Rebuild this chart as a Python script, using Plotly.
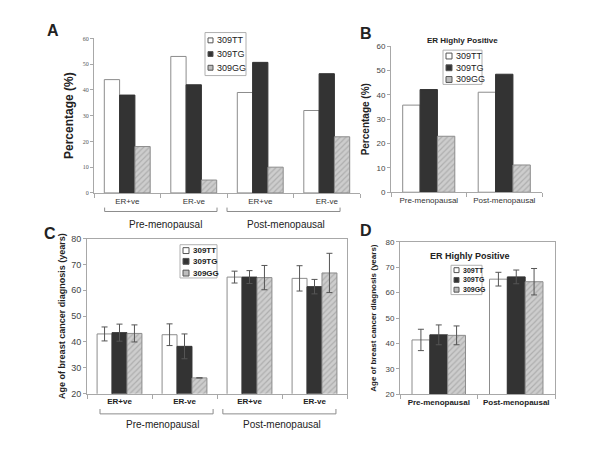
import plotly.graph_objects as go

# --- données ---
genotypes = ["309TT", "309TG", "309GG"]
er_labels = ["ER+ve", "ER-ve", "ER+ve", "ER-ve"]
meno_labels = ["Pre-menopausal", "Post-menopausal"]

# Panel A : pourcentage par statut ER
pct_a_tt = [44, 53, 39, 32]
pct_a_tg = [38, 42, 50.7, 46.3]
pct_a_gg = [18, 5, 10, 21.8]

# Panel B : ER fortement positif
pct_b_tt = [35.8, 41.1]
pct_b_tg = [42.2, 48.5]
pct_b_gg = [23.0, 11.2]

# Panel C : âge au diagnostic (moyenne, écart)
age_c_tt = [43.1, 42.8, 65.1, 64.6]
err_c_tt = [2.7, 4.2, 2.3, 4.9]
age_c_tg = [43.6, 38.3, 65.1, 61.4]
err_c_tg = [3.3, 4.8, 2.5, 2.8]
age_c_gg = [43.3, 26.1, 64.9, 66.7]
err_c_gg = [3.3, 0, 4.7, 7.6]

# Panel D : âge, ER fortement positif
age_d_tt = [41.4, 65.3]
err_d_tt = [4.2, 2.7]
age_d_tg = [43.4, 66.2]
err_d_tg = [3.9, 2.7]
age_d_gg = [43.2, 64.3]
err_d_gg = [3.7, 5.2]

FONT = "Liberation Sans, Arial, sans-serif"
W, H = 600, 450

STYLES = {
    "309TT": dict(color="white", line=dict(color="#8c8c8c", width=1)),
    "309TG": dict(color="#333333", line=dict(color="#333333", width=1)),
    "309GG": dict(color="#c4c4c4", line=dict(color="#8c8c8c", width=1),
                  pattern=dict(shape="/", fgcolor="#8f8f8f", bgcolor="#cdcdcd",
                               size=4, solidity=0.3)),
}
SWATCH = {"309TT": "white", "309TG": "#333333", "309GG": "#bdbdbd"}


def px_x(p):
    return p / W


def px_y(p):
    return 1 - p / H


def ajouter_panel(fig, xa, ya, series, errs=None):
    x = list(range(len(series[0])))
    for i, g in enumerate(genotypes):
        err = None
        if errs is not None:
            err = dict(type="data", array=errs[i], visible=True,
                       color="#555555", thickness=1, width=3)
        fig.add_trace(go.Bar(
            x=x, y=series[i], name=g, marker=STYLES[g],
            xaxis=xa, yaxis=ya, error_y=err, showlegend=False,
        ))


fig = go.Figure()

ajouter_panel(fig, "x", "y", [pct_a_tt, pct_a_tg, pct_a_gg])
ajouter_panel(fig, "x2", "y2", [pct_b_tt, pct_b_tg, pct_b_gg])
ajouter_panel(fig, "x3", "y3", [age_c_tt, age_c_tg, age_c_gg],
              errs=[err_c_tt, err_c_tg, err_c_gg])
ajouter_panel(fig, "x4", "y4", [age_d_tt, age_d_tg, age_d_gg],
              errs=[err_d_tt, err_d_tg, err_d_gg])

axe_gris = "#a8a8a8"


def xaxe(domain, ticktext, font, frame=False, n=4):
    return dict(
        domain=domain, range=[-0.5, n - 0.5],
        tickvals=list(range(n)), ticktext=ticktext, ticks="",
        tickfont=font, showline=True, linecolor=axe_gris, linewidth=1,
        mirror=frame, showgrid=False, zeroline=False, fixedrange=True,
        minor=dict(tickvals=[k - 0.5 for k in range(n + 1)], ticks="outside",
                   ticklen=4, tickcolor=axe_gris),
    )


def yaxe(domain, rng, font, title, titlefont, frame=False, standoff=4):
    return dict(
        domain=domain, range=rng, dtick=10, tickfont=font,
        ticks="outside", ticklen=3, tickcolor=axe_gris,
        showline=True, linecolor=axe_gris, linewidth=1, mirror=frame,
        showgrid=False, zeroline=False, fixedrange=True,
        title=dict(text=title, font=titlefont, standoff=standoff),
    )


fig.update_layout(
    width=W, height=H, margin=dict(l=0, r=0, t=0, b=0),
    paper_bgcolor="white", plot_bgcolor="white",
    font=dict(family=FONT, color="#222222"),
    barmode="group", bargap=0.31, bargroupgap=0, showlegend=False,
    # Panel A
    xaxis=xaxe([px_x(86), px_x(352)], er_labels,
               dict(size=8, color="#333")) | dict(anchor="y"),
    yaxis=yaxe([px_y(184), px_y(26)], [0, 60],
               dict(size=6, family="Liberation Serif, serif", color="#555"),
               "<b>Percentage (%)</b>", dict(size=12, color="#222"),
               standoff=6) | dict(anchor="x"),
    # Panel B
    xaxis2=xaxe([px_x(383), px_x(534)], meno_labels,
                dict(size=8, color="#333"), n=2) | dict(anchor="y2"),
    yaxis2=yaxe([px_y(183.3), px_y(34)], [0, 60],
                dict(size=8, color="#444"), "<b>Percentage (%)</b>",
                dict(size=10, color="#222")) | dict(anchor="x2"),
    # Panel C
    xaxis3=xaxe([px_x(79), px_x(339)], [f"<b>{t}</b>" for t in er_labels],
                dict(size=8, color="#222"), frame=True) | dict(anchor="y3"),
    yaxis3=yaxe([px_y(389.3), px_y(230.7)], [20, 80],
                dict(size=9, color="#444"),
                "<b>Age of breast cancer diagnosis (years)</b>",
                dict(size=9, color="#222"), frame=True,
                standoff=4) | dict(anchor="x3"),
    # Panel D
    xaxis4=xaxe([px_x(392), px_x(547)], [f"<b>{t}</b>" for t in meno_labels],
                dict(size=8, color="#222"), frame=True, n=2) | dict(anchor="y4"),
    yaxis4=yaxe([px_y(390), px_y(234)], [20, 80],
                dict(size=8, color="#444"),
                "<b>Age of breast cancer diagnosis (years)</b>",
                dict(size=8, color="#222"), frame=True,
                standoff=7) | dict(anchor="x4"),
)


# légendes dessinées à la main (cadre, carrés, libellés)
def legende(x0, x1, y0, y1, ys, sw, size, bold=False):
    fig.add_shape(type="rect", xref="paper", yref="paper",
                  x0=px_x(x0), x1=px_x(x1), y0=px_y(y1), y1=px_y(y0),
                  line=dict(color="#b0b0b0", width=1), fillcolor="white")
    for g, y in zip(genotypes, ys):
        fig.add_shape(type="rect", xref="paper", yref="paper",
                      x0=px_x(x0 + 3), x1=px_x(x0 + 3 + sw),
                      y0=px_y(y + sw / 2), y1=px_y(y - sw / 2),
                      line=dict(color="#555555", width=1),
                      fillcolor=SWATCH[g])
        txt = f"<b>{g}</b>" if bold else g
        fig.add_annotation(x=px_x(x0 + 5 + sw), y=px_y(y), text=txt,
                           xref="paper", yref="paper", showarrow=False,
                           xanchor="left", yanchor="middle",
                           font=dict(size=size, family=FONT, color="#222"))


legende(197, 238, 20, 64, [28, 42, 56], 5, 9)
legende(435, 474, 38, 73, [44, 56, 68], 6, 9)
legende(172, 209, 237, 271, [243, 254, 266], 6, 8, bold=True)
legende(443, 474, 258, 288, [263, 273, 283], 5, 7, bold=True)


# accolades sous l'axe (pré / post-ménopause)
def accolade(xref, x0, x1, ybas, yhaut):
    fig.add_shape(type="path", xref=xref, yref="paper",
                  path=f"M {x0} {yhaut} L {x0} {ybas} L {x1} {ybas} L {x1} {yhaut}",
                  line=dict(color="#8c8c8c", width=1))


accolade("x", -0.34, 1.35, px_y(203), px_y(199))
accolade("x", 1.5, 3.2, px_y(203), px_y(199))
accolade("x3", -0.3, 1.44, px_y(410), px_y(405))
accolade("x3", 1.59, 3.33, px_y(410), px_y(405))

annots = [
    # lettres des panneaux
    dict(x=px_x(45), y=px_y(18), text="<b>A</b>", font=dict(size=16)),
    dict(x=px_x(358), y=px_y(21), text="<b>B</b>", font=dict(size=16)),
    dict(x=px_x(42), y=px_y(225), text="<b>C</b>", font=dict(size=16)),
    dict(x=px_x(358), y=px_y(222), text="<b>D</b>", font=dict(size=16)),
    # titres
    dict(x=px_x(454), y=px_y(28), text="<b>ER Highly Positive</b>", font=dict(size=8)),
    dict(x=px_x(462), y=px_y(249), text="<b>ER Highly Positive</b>", font=dict(size=9)),
    # groupes
    dict(x=px_x(158), y=px_y(216), text=meno_labels[0], font=dict(size=10)),
    dict(x=px_x(278), y=px_y(216), text=meno_labels[1], font=dict(size=10)),
    dict(x=px_x(154), y=px_y(421), text=meno_labels[0], font=dict(size=10)),
    dict(x=px_x(274), y=px_y(421), text=meno_labels[1], font=dict(size=10)),
]
for a in annots:
    a.update(xref="paper", yref="paper", showarrow=False,
             xanchor="center", yanchor="middle")
    a["font"].update(family=FONT, color="#222")
    fig.add_annotation(**a)

fig.write_html("out.html")
